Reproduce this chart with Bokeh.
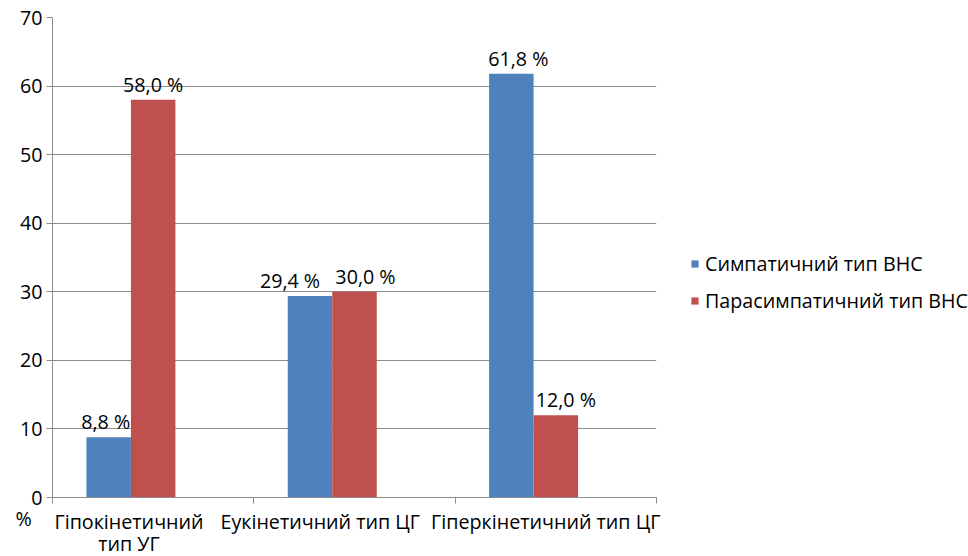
from bokeh.plotting import figure
from bokeh.models import (Range1d, FixedTicker, Legend, LegendItem, Label,
                          ColumnDataSource)
from bokeh.embed import file_html
from bokeh.resources import INLINE
from bokeh.core.properties import value

# ---- data ----
categories = ["Гіпокінетичний\nтип УГ", "Еукінетичний тип ЦГ", "Гіперкінетичний тип ЦГ"]
series_names = ["Симпатичний тип ВНС", "Парасимпатичний тип ВНС"]
sympathetic = [8.8, 29.4, 61.8]
parasympathetic = [58.0, 30.0, 12.0]
y_ticks = [0, 10, 20, 30, 40, 50, 60, 70]

BLUE = "#4F81BD"
RED = "#C0504D"
GRID = "#8C8C8C"
FONT = "Open Sans"
FS = "19.7px"

n = len(categories)
centers = [i + 0.5 for i in range(n)]
bar_w = 0.221
blue_x = [c - bar_w for c in centers]
red_x = list(centers)

p = figure(frame_width=604, frame_height=480, output_backend="svg",
           toolbar_location=None, x_range=Range1d(0, n), y_range=Range1d(0, 70),
           min_border_left=51, min_border_top=17, min_border_right=310,
           min_border_bottom=10)
p.outline_line_color = None
p.background_fill_color = "white"

blue_src = ColumnDataSource(dict(x=blue_x, top=sympathetic,
                                 lab=[f"{v:.1f} %".replace(".", ",") for v in sympathetic],
                                 dx=[-3, -20, 7]))
red_src = ColumnDataSource(dict(x=red_x, top=parasympathetic,
                                lab=[f"{v:.1f} %".replace(".", ",") for v in parasympathetic],
                                dx=[0, 11, 10]))

rb = p.vbar(x="x", top="top", width=bar_w, source=blue_src, fill_color=BLUE, line_color=None)
rr = p.vbar(x="x", top="top", width=bar_w, source=red_src, fill_color=RED, line_color=None)

for src in (blue_src, red_src):
    p.text(x="x", y="top", text="lab", source=src, x_offset="dx", y_offset=-2,
           text_align="center", text_baseline="bottom",
           text_font=value(FONT), text_font_size=FS, text_color="black")

# grid
p.xgrid.visible = False
p.ygrid.grid_line_color = GRID
p.ygrid.grid_line_width = 1
p.ygrid.ticker = FixedTicker(ticks=y_ticks)

# y axis
p.yaxis.ticker = FixedTicker(ticks=y_ticks)
p.yaxis.axis_line_color = GRID
p.yaxis.major_tick_line_color = GRID
p.yaxis.major_tick_out = 6
p.yaxis.major_tick_in = 0
p.yaxis.minor_tick_line_color = None
p.yaxis.major_label_text_font = FONT
p.yaxis.major_label_text_font_size = FS
p.yaxis.major_label_text_color = "black"
p.yaxis.major_label_standoff = 4

# x axis: labels at (shifted) category positions, ticks at category boundaries
label_pos = [0.38, 1.33, 2.45]
p.xaxis.ticker = FixedTicker(ticks=label_pos, minor_ticks=list(range(n + 1)))
p.xaxis.major_label_overrides = {lp: c for lp, c in zip(label_pos, categories)}
p.xaxis.axis_line_color = GRID
p.xaxis.major_tick_line_color = None
p.xaxis.major_tick_out = 0
p.xaxis.major_tick_in = 0
p.xaxis.minor_tick_line_color = GRID
p.xaxis.minor_tick_out = 6
p.xaxis.minor_tick_in = 0
p.xaxis.major_label_text_font = FONT
p.xaxis.major_label_text_font_size = FS
p.xaxis.major_label_text_color = "black"
p.xaxis.major_label_standoff = 4
p.xaxis.major_label_text_line_height = 0.82

# "%" unit label under the y axis
p.add_layout(Label(x=15, y=-7, x_units="screen", y_units="screen", text="%",
                   text_font=FONT, text_font_size=FS, text_align="left",
                   text_baseline="top", text_color="black"), "left")

legend = Legend(items=[LegendItem(label=series_names[0], renderers=[rb]),
                       LegendItem(label=series_names[1], renderers=[rr])],
                location=(34, 183), padding=0, margin=0, spacing=10,
                glyph_width=9, glyph_height=9, label_height=20,
                label_standoff=6,
                border_line_color=None, background_fill_alpha=0,
                label_text_font=FONT, label_text_font_size=FS,
                label_text_color="black")
p.add_layout(legend, "right")

open("out.html", "w").write(file_html(p, INLINE))
